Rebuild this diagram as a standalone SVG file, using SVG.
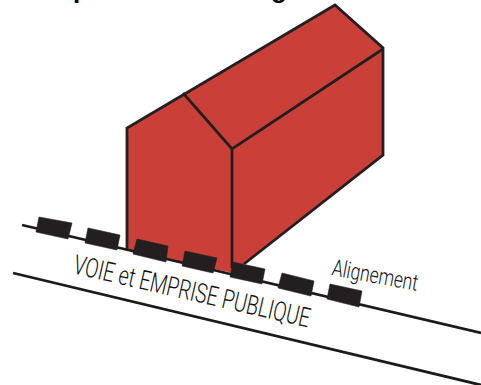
<svg xmlns="http://www.w3.org/2000/svg" width="481" height="385" viewBox="0 0 481 385">
<style>
.w{fill:#ca4039;stroke:none}
.l{fill:none;stroke:#231f20;stroke-width:2.8;stroke-linejoin:miter}
.r{fill:none;stroke:#1d1a18;stroke-width:2.8}
.b{fill:#231f20;stroke:#231f20;stroke-width:.6}
.t{font-family:Roboto,"Liberation Sans",sans-serif;fill:#111;font-weight:300}
.c{font-family:"Liberation Sans",Arial,sans-serif;fill:#000;font-weight:bold;font-size:26px}
</style>
<text class="c" x="73" y="-2">p</text>
<text class="c" x="271" y="-2">g</text>
<g id="maison">
<path class="w" d="M127 128 L335 5 L383 49 L383 155 L245 263 L233 273 L127 250 Z"/>
<path class="l" d="M127 249 L127 128 L335 5 L383 48 L383 155 L244 264"/>
<path class="l" d="M183 93 L232 149 L383 49"/>
<path class="l" d="M232 149 L232 268"/>
</g>
<g id="voie">
<path class="r" d="M22 225 L481 333"/>
<path class="r" d="M13 273 L481 385"/>
</g>
<g id="alignement">
<path class="b" d="M39 217 L72 223 L68 239 L36 232 Z"/>
<path class="b" d="M88 228 L120 235 L117 250 L85 243 Z"/>
<path class="b" d="M137 239 L168 246 L166 262 L133 254 Z"/>
<path class="b" d="M185 251 L217 258 L213 273 L182 266 Z"/>
<path class="b" d="M233 262 L265 269 L262 284 L230 277 Z"/>
<path class="b" d="M282 273 L314 281 L311 296 L278 288 Z"/>
<path class="b" d="M330 284 L362 291 L359 307 L327 299 Z"/>
</g>
<g id="labels">
<text class="t" transform="translate(72 273) rotate(13)" font-size="27" textLength="242" lengthAdjust="spacingAndGlyphs">VOIE et EMPRISE PUBLIQUE</text>
<text class="t" transform="translate(331 275) rotate(10.5)" font-size="23" textLength="87" lengthAdjust="spacingAndGlyphs">Alignement</text>
</g>
</svg>
